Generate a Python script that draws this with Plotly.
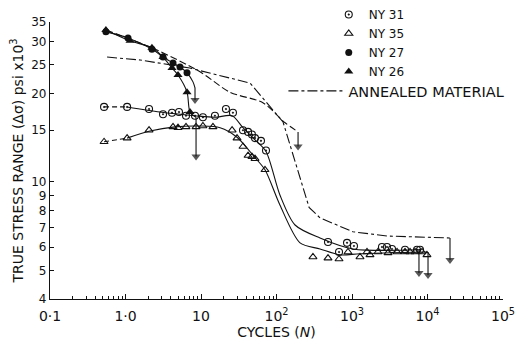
import math
import plotly.graph_objects as go

# ---------------- data (cycles N, stress range ksi) ----------------
ny31_n = [0.52, 1.05, 2.05, 3.14, 4.13, 5.11, 6.33, 8.33, 10.6, 15.3, 21.4, 26.5, 36.0, 42.0,
          47.3, 51.9, 62.3, 72.6, 481, 673, 859, 1062, 2495, 2909, 3388, 5040, 7260, 7960]
ny31_s = [18.0, 18.0, 17.7, 17.0, 17.2, 17.3, 16.8, 16.8, 16.6, 16.8, 17.7, 17.2, 15.0, 14.8,
          14.5, 14.1, 13.8, 12.8, 6.25, 5.78, 6.21, 6.06, 6.01, 6.01, 5.92, 5.88, 5.88, 5.88]
ny31_fit_n = [1.05, 2.86, 8.33, 15.3, 25.8, 36.0, 51.9, 72.6, 111, 176, 377, 1030, 7960]
ny31_fit_s = [18.0, 17.3, 16.8, 16.6, 16.8, 15.3, 13.9, 12.7, 9.03, 7.14, 6.45, 5.92, 5.88]
ny31_dash_n = [0.52, 1.05]
ny31_dash_s = [18.0, 18.0]

ny35_n = [0.52, 1.05, 2.05, 4.26, 4.96, 6.33, 8.59, 10.6, 14.4, 25.8, 30.0, 36.0, 42.0, 47.3,
          51.9, 70.4, 304, 481, 673, 885, 1276, 1580, 1730, 2208, 3000, 3948, 5040, 5870,
          6830, 8460, 9840]
ny35_s = [13.7, 14.1, 15.0, 15.4, 15.3, 15.4, 15.4, 15.5, 15.4, 15.0, 14.1, 13.2, 12.3, 12.2,
          12.0, 11.0, 5.56, 5.51, 5.47, 5.78, 5.56, 5.78, 5.65, 5.78, 5.74, 5.78, 5.78, 5.78,
          5.78, 5.78, 5.65]
ny35_fit_n = [1.05, 2.11, 4.53, 9.7, 17.9, 30.0, 51.9, 70.4, 111, 205, 377, 693, 1276, 9840]
ny35_fit_s = [14.1, 14.9, 15.4, 15.5, 15.3, 14.2, 12.1, 11.0, 8.35, 6.21, 5.92, 5.65, 5.70, 5.78]
ny35_dash_n = [0.52, 1.05]
ny35_dash_s = [13.7, 14.1]

ny27_n = [0.55, 1.08, 2.24, 3.14, 4.26, 5.27, 6.53]
ny27_s = [32.4, 30.9, 28.3, 26.6, 25.4, 24.6, 23.5]
ny27_fit_n = [0.55, 1.08, 2.24, 3.14, 4.26, 5.27, 6.53, 7.83, 8.33]
ny27_fit_s = [32.4, 30.9, 28.3, 26.6, 25.4, 24.6, 23.5, 21.9, 20.9]

ny26_n = [0.55, 1.15, 2.24, 3.14, 4.13, 4.96, 6.53, 7.15]
ny26_s = [32.9, 30.2, 28.6, 26.6, 24.4, 23.1, 20.2, 17.3]
ny26_fit_n = [0.55, 1.15, 2.24, 3.14, 4.13, 4.96, 6.53, 7.15, 8.6]
ny26_fit_s = [32.9, 30.2, 28.6, 26.6, 24.4, 23.1, 20.2, 17.3, 16.6]

upper_dash_n = [0.55, 2.61, 9.7, 24.2, 66, 130, 193]
upper_dash_s = [32.9, 28.1, 23.7, 20.2, 18.6, 15.9, 14.8]

annealed_n = [0.57, 1.56, 7.1, 24.2, 44.6, 122, 270, 377, 1030, 2910, 19860]
annealed_s = [26.6, 26.0, 24.4, 22.6, 21.7, 16.0, 8.2, 7.55, 6.77, 6.55, 6.45]

# run-out arrows: cycles, start stress, end stress
arrow_n = [8.33, 8.6, 193, 7710, 10160, 19860]
arrow_s_from = [20.9, 16.6, 14.8, 5.88, 5.78, 6.45]
arrow_s_to = [19.0, 12.2, 13.2, 4.90, 4.83, 5.43]

x_tickvals = [0.1, 1, 10, 100, 1000, 10000, 100000]
x_ticktext = ["0·1", "1·0", "10", "10<sup>2</sup>", "10<sup>3</sup>", "10<sup>4</sup>", "10<sup>5</sup>"]
y_tickvals = [4, 5, 6, 7, 8, 9, 10, 15, 20, 25, 30, 35]
y_ticktext = [str(v) for v in y_tickvals]

FONT = "DejaVu Sans"
BLACK = "#111111"

fig = go.Figure()


def line(xs, ys, dash="solid", shape="spline", width=1.1):
    fig.add_trace(go.Scatter(x=xs, y=ys, mode="lines", showlegend=False, hoverinfo="skip",
                             line=dict(color=BLACK, width=width, dash=dash, shape=shape,
                                       smoothing=0.8 if shape == "spline" else None)))


# fitted curves
line(ny31_dash_n, ny31_dash_s, dash="5px,3px", shape="linear")
line(ny31_fit_n, ny31_fit_s)
line(ny35_dash_n, ny35_dash_s, dash="5px,3px", shape="linear")
line(ny35_fit_n, ny35_fit_s)
line(ny27_fit_n, ny27_fit_s)
line(ny26_fit_n, ny26_fit_s)
line(upper_dash_n, upper_dash_s, dash="7px,3px")

# run-out arrows (shaft + arrow head)
for n, s0, s1 in zip(arrow_n, arrow_s_from, arrow_s_to):
    fig.add_trace(go.Scatter(x=[n, n], y=[s0, s1], mode="lines+markers", showlegend=False,
                             hoverinfo="skip", line=dict(color=BLACK, width=1.1),
                             marker=dict(symbol="triangle-down", size=[0, 8], color=BLACK,
                                         line=dict(width=0))))

# markers
fig.add_trace(go.Scatter(x=ny31_n, y=ny31_s, mode="markers", name="NY 31",
                         marker=dict(symbol="circle-open-dot", size=7, color=BLACK,
                                     line=dict(width=1.1, color=BLACK))))
fig.add_trace(go.Scatter(x=ny35_n, y=ny35_s, mode="markers", name="NY 35",
                         marker=dict(symbol="triangle-up-open", size=7, color=BLACK,
                                     line=dict(width=1.1, color=BLACK))))
fig.add_trace(go.Scatter(x=ny27_n, y=ny27_s, mode="markers", name="NY 27",
                         marker=dict(symbol="circle", size=7, color=BLACK)))
fig.add_trace(go.Scatter(x=ny26_n, y=ny26_s, mode="markers", name="NY 26",
                         marker=dict(symbol="triangle-up", size=8, color=BLACK)))
fig.add_trace(go.Scatter(x=annealed_n, y=annealed_s, mode="lines", name="ANNEALED MATERIAL",
                         legend="legend2",
                         line=dict(color=BLACK, width=1.1, dash="10px,3px,3px,3px")))

minor_x = [m * 10 ** d for d in range(-1, 5) for m in range(2, 10)]

fig.update_layout(
    width=521, height=344,
    margin=dict(l=50, r=18, t=22, b=45, autoexpand=False),
    paper_bgcolor="white", plot_bgcolor="white",
    font=dict(family=FONT, color=BLACK, size=13),
    legend=dict(xref="container", yref="container", x=0.631, y=1.0, xanchor="left",
                yanchor="top", bgcolor="rgba(0,0,0,0)", font=dict(size=12), itemwidth=30,
                tracegroupgap=0),
    legend2=dict(xref="container", yref="container", x=0.544, y=0.782, xanchor="left",
                 yanchor="top", bgcolor="rgba(0,0,0,0)", font=dict(size=14.5), itemwidth=55),
    xaxis=dict(type="log", range=[-1, 5], tickvals=x_tickvals, ticktext=x_ticktext,
               ticks="inside", ticklen=5, tickwidth=1, tickcolor=BLACK, ticklabelstandoff=4,
               showline=True, linecolor=BLACK, linewidth=1.3, showgrid=False, zeroline=False,
               tickfont=dict(size=14),
               minor=dict(tickvals=minor_x, ticks="inside", ticklen=3, tickcolor=BLACK, showgrid=False),
               title=dict(text="CYCLES (<i>N</i>)", font=dict(size=14), standoff=2)),
    yaxis=dict(type="log", range=[math.log10(4), math.log10(35)], tickvals=y_tickvals,
               ticktext=y_ticktext, ticks="inside", ticklen=4, tickwidth=1, tickcolor=BLACK,
               showline=True, linecolor=BLACK, linewidth=1.3, showgrid=False, zeroline=False,
               tickfont=dict(size=12),
               title=dict(text="TRUE STRESS RANGE (Δσ) psi x10<sup>3</sup>", font=dict(size=14),
                          standoff=4)),
)

fig.write_html("out.html")
